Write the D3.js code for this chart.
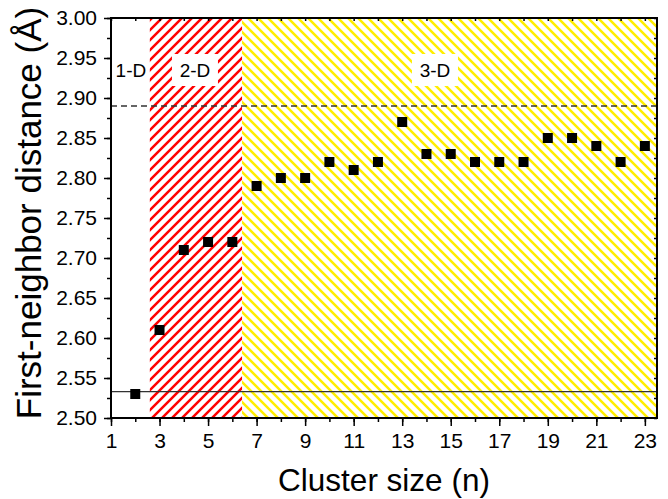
<!DOCTYPE html>
<html><head><meta charset="utf-8">
<script src="https://cdn.jsdelivr.net/npm/d3@7"></script>
<style>body{margin:0;background:#fff;} text{font-family:"Liberation Sans",Arial,sans-serif;}</style>
</head><body>
<svg id="c" width="668" height="499"></svg>
<script>
const sizes = [2,3,4,5,6,7,8,9,10,11,12,13,14,15,16,17,18,19,20,21,22,23];
const distances = [2.53,2.61,2.71,2.72,2.72,2.79,2.80,2.80,2.82,2.81,2.82,2.87,2.83,2.83,2.82,2.82,2.82,2.85,2.85,2.84,2.82,2.84];
const xTicks = [1,3,5,7,9,11,13,15,17,19,21,23];
const yTicks = [2.50,2.55,2.60,2.65,2.70,2.75,2.80,2.85,2.90,2.95,3.00];
const regions = [
  {label:"1-D", x0:1, x1:2.6, labelX:1.82, fill:"none"},
  {label:"2-D", x0:2.6, x1:6.4, labelX:4.46, fill:"url(#redHatch)"},
  {label:"3-D", x0:6.4, x1:23.5, labelX:14.35, fill:"url(#yellowHatch)"}
];
const labelY = 2.935;
const refLines = [{y:2.89, dash:"6,4"}, {y:2.533, dash:null}];

const svg = d3.select("#c");
const m = {l:111, r:657, t:18, b:418};
const x = d3.scaleLinear().domain([1,23.5]).range([m.l,m.r]);
const y = d3.scaleLinear().domain([2.5,3.0]).range([m.b,m.t]);

const defs = svg.append("defs");
function hatch(id, color, dir){
  const s = 10;
  const p = defs.append("pattern").attr("id",id).attr("patternUnits","userSpaceOnUse")
    .attr("width",s).attr("height",s);
  const d = dir>0 ? `M-2,2 L2,-2 M0,${s} L${s},0 M${s-2},${s+2} L${s+2},${s-2}`
                  : `M-2,${s-2} L2,${s+2} M0,0 L${s},${s} M${s-2},-2 L${s+2},2`;
  p.append("path").attr("d",d).attr("stroke",color).attr("stroke-width",2.5).attr("fill","none");
}
hatch("redHatch","#ff0000",1);
hatch("yellowHatch","#ffee00",-1);

svg.append("g").selectAll("rect").data(regions).join("rect")
  .attr("x",d=>x(d.x0)).attr("width",d=>x(d.x1)-x(d.x0))
  .attr("y",m.t).attr("height",m.b-m.t).attr("fill",d=>d.fill);

// region labels
const lab = svg.append("g").selectAll("g").data(regions).join("g")
  .attr("transform",d=>`translate(${x(d.labelX)},${y(labelY)})`);
lab.filter(d=>d.label!=="1-D").append("rect").attr("x",-23).attr("y",-16).attr("width",46).attr("height",32).attr("fill","#fff");
lab.append("text").attr("text-anchor","middle").attr("dy","0.36em").attr("font-size",19).text(d=>d.label);

// reference lines
svg.append("g").selectAll("line").data(refLines).join("line")
  .attr("x1",m.l).attr("x2",m.r).attr("y1",d=>y(d.y)).attr("y2",d=>y(d.y))
  .attr("stroke","#333").attr("stroke-width",1.3).attr("stroke-dasharray",d=>d.dash);

// points
svg.append("g").selectAll("rect").data(sizes.map((s,i)=>[s,distances[i]])).join("rect")
  .attr("x",d=>x(d[0])-5).attr("y",d=>y(d[1])-5).attr("width",10).attr("height",10).attr("fill","#000");

// axes
const xMinor = d3.range(1,24);
const yMinor = d3.range(0,21).map(i=>2.5+i*0.025);
const ax = svg.append("g").attr("transform",`translate(0,${m.b})`)
  .call(d3.axisBottom(x).tickValues(xMinor).tickSize(4).tickFormat(""));
ax.select(".domain").remove();
const ax2 = svg.append("g").attr("transform",`translate(0,${m.b})`)
  .call(d3.axisBottom(x).tickValues(xTicks).tickSize(8).tickPadding(7).tickFormat(d3.format("d")));
ax2.selectAll("text").attr("font-size",21).attr("fill","#000");
ax2.select(".domain").remove();

const ay = svg.append("g").attr("transform",`translate(${m.l},0)`)
  .call(d3.axisLeft(y).tickValues(yMinor).tickSize(4).tickFormat(""));
ay.select(".domain").remove();
const ay2 = svg.append("g").attr("transform",`translate(${m.l},0)`)
  .call(d3.axisLeft(y).tickValues(yTicks).tickSize(7).tickPadding(7).tickFormat(d3.format(".2f")));
ay2.selectAll("text").attr("font-size",21).attr("fill","#000");
ay2.select(".domain").remove();

const at = svg.append("g").attr("transform",`translate(0,${m.t})`)
  .call(d3.axisBottom(x).tickValues(xMinor).tickSize(3).tickFormat(""));
at.select(".domain").remove();
const ar = svg.append("g").attr("transform",`translate(${m.r},0)`)
  .call(d3.axisLeft(y).tickValues(yMinor).tickSize(3).tickFormat(""));
ar.select(".domain").remove();
svg.selectAll(".tick line").attr("stroke","#000").attr("stroke-width",1.5);

svg.append("rect").attr("x",m.l).attr("y",m.t).attr("width",m.r-m.l).attr("height",m.b-m.t)
  .attr("fill","none").attr("stroke","#000").attr("stroke-width",2);

svg.append("text").attr("x",384).attr("y",491).attr("text-anchor","middle").attr("font-size",31.5).text("Cluster size (n)");
svg.append("text").attr("transform","translate(41,213) rotate(-90)").attr("text-anchor","middle").attr("font-size",35).text("First-neighbor distance (Å)");
</script>
</body></html>
